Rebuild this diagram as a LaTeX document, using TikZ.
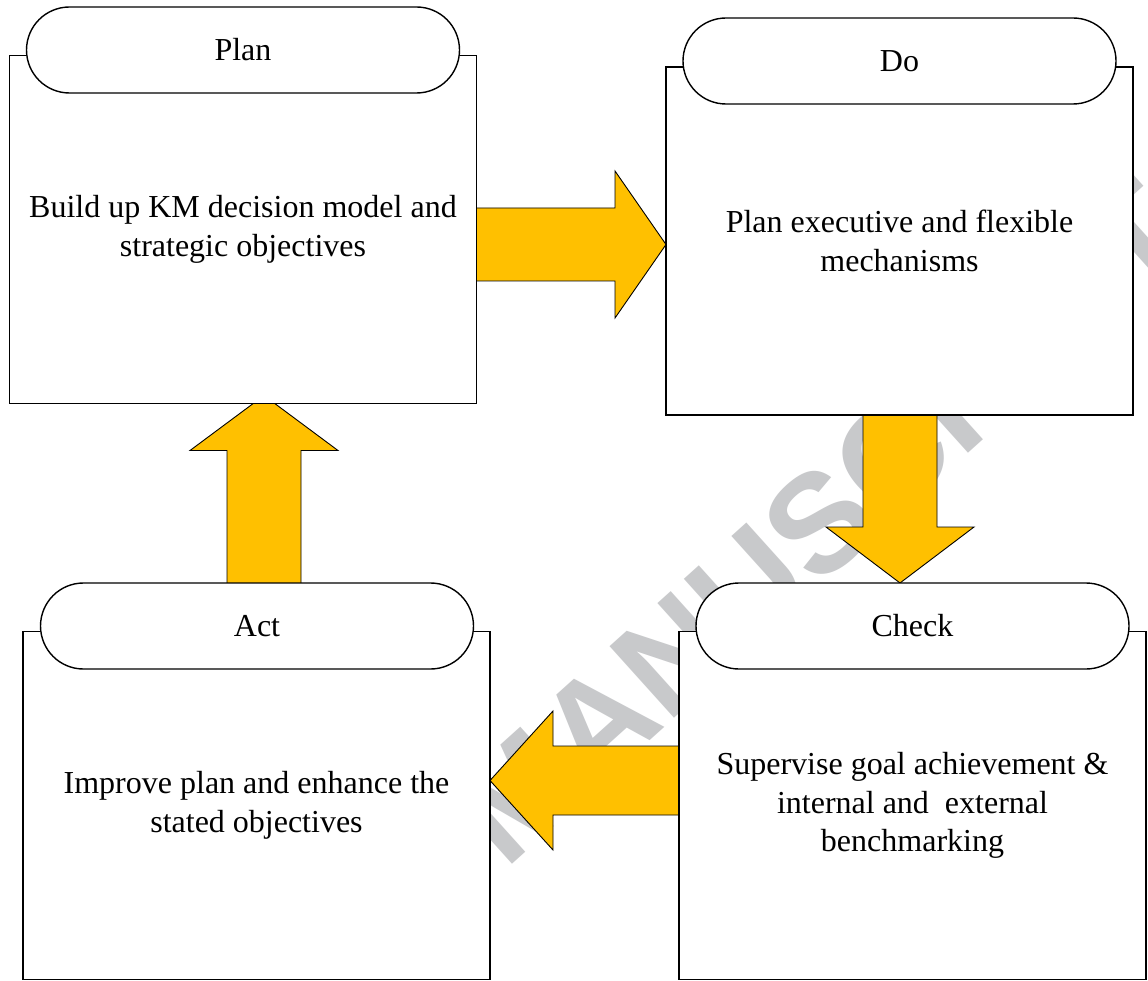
\documentclass[tikz,border=0pt]{standalone}
\usepackage{fontspec}
\setmainfont{Liberation Serif}
\newfontfamily\markfont{Liberation Sans}
\usetikzlibrary{calc,backgrounds}

\definecolor{arrowgold}{RGB}{255,192,0}
\definecolor{markgray}{RGB}{200,201,203}
\newcommand\bodyfont{\fontsize{32}{38.5}\selectfont}

\tikzset{
  stagebox/.style={draw=black, line width=1.5pt, fill=white, inner sep=0pt, outer sep=0pt,
    minimum width=467pt, minimum height=348pt, align=center, font=\bodyfont},
  stagetitle/.style={draw=black, line width=1.4pt, fill=white, rounded corners=43pt,
    inner sep=0pt, outer sep=0pt, minimum width=433pt, minimum height=86pt, font=\bodyfont},
  blockarrow/.style={fill=arrowgold, draw=black, line width=0.9pt, line join=miter},
  watermark/.style={text=markgray, inner sep=0pt, rotate=42,
    font=\markfont\bfseries\fontsize{140}{140}\selectfont},
}

% block arrow: #1 tail, #2 tip, #3 shaft half-width, #4 head half-width, #5 head length
\newcommand\blockarrow[5]{%
  \path[blockarrow] let \p1=(#1), \p2=(#2),
      \n1={atan2(\y2-\y1,\x2-\x1)}, \n2={veclen(\x2-\x1,\y2-\y1)} in
    [shift={(\p1)}, rotate=\n1]
    (0,#3) -- ({\n2-#5},#3) -- ({\n2-#5},#4) -- (\n2,0) -- ({\n2-#5},-#4)
    -- ({\n2-#5},-#3) -- (0,-#3) -- cycle;}

\begin{document}
\begin{tikzpicture}[x=1pt, y=-1pt]
  \useasboundingbox (0,0) rectangle (1148,981);

  % the four stages
  \node[stagebox] (planbox) at (243,229.5) {Build up KM decision model and\\strategic objectives};
  \node[stagetitle] (plantitle) at (243,50) {Plan};

  \node[stagebox] (dobox) at (899.5,241) {Plan executive and flexible\\mechanisms};
  \node[stagetitle] (dotitle) at (899.5,61) {Do};

  \node[stagebox] (checkbox) at (912.5,805.5) {Supervise goal achievement \&\\internal and\ \ external\\benchmarking};
  \node[stagetitle] (checktitle) at (912.5,626) {Check};

  \node[stagebox] (actbox) at (256.5,805.5) {Improve plan and enhance the\\stated objectives};
  \node[stagetitle] (acttitle) at (257,626) {Act};

  % connector end points
  \coordinate (a1tail) at ($(planbox.east)+(-10,15)$);
  \coordinate (a1tip) at (dobox.west |- a1tail);
  \coordinate (a2tail) at ($(dobox.south)+(0.5,-8)$);
  \coordinate (a2tip) at (a2tail |- checktitle.north);
  \coordinate (a3tail) at ($(checkbox.west)+(10,-25)$);
  \coordinate (a3tip) at (actbox.east |- a3tail);
  \coordinate (a4tail) at ($(acttitle.north)+(7,6)$);
  \coordinate (a4tip) at ($(a4tail |- planbox.south)+(0,-8)$);

  \begin{pgfonlayer}{background}
    \fill[white] (0,0) rectangle (1148,981);
    \begin{scope}
      \clip (0,0) rectangle (1148,981);
      \node[watermark] (mark) at (820,522) {MANUSCRIPT};
    \end{scope}
    \blockarrow{a1tail}{a1tip}{36.5}{73.5}{51}
    \blockarrow{a2tail}{a2tip}{37}{74}{56}
    \blockarrow{a3tail}{a3tip}{34.5}{69.5}{63}
    \blockarrow{a4tail}{a4tip}{37}{74}{55}
  \end{pgfonlayer}
\end{tikzpicture}
\end{document}
